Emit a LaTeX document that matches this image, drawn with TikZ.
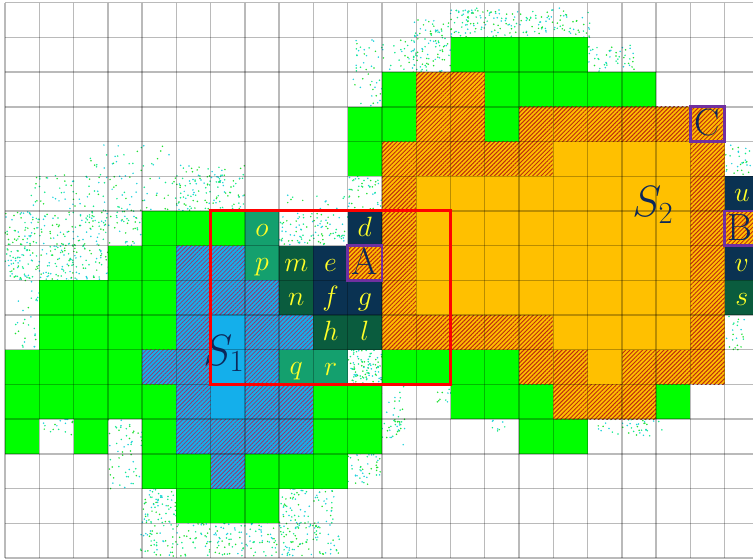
\RequirePackage{fix-cm}
\documentclass[tikz,border=0pt]{standalone}
\usetikzlibrary{patterns.meta}
\definecolor{gr}{RGB}{0,255,0}
\definecolor{orsolid}{RGB}{255,192,0}
\definecolor{orhatch}{RGB}{190,45,15}
\definecolor{blsolid}{RGB}{20,175,235}
\definecolor{blhatch}{RGB}{150,55,110}
\definecolor{tealc}{RGB}{20,160,110}
\definecolor{dkgreen}{RGB}{10,92,62}
\definecolor{navyc}{RGB}{10,50,82}
\definecolor{purp}{RGB}{112,48,160}
\definecolor{lettery}{RGB}{255,255,40}
\definecolor{labnavy}{RGB}{12,40,90}
\definecolor{dotg}{RGB}{30,225,50}
\definecolor{dotc}{RGB}{30,210,220}
\definecolor{dott}{RGB}{20,235,140}
\newcommand\dotcloud[5]{%
  \foreach \k in {1,...,#5}{%
    \pgfmathsetmacro\dx{#1+(#3-#1)*rnd}%
    \pgfmathsetmacro\dy{#2+(#4-#2)*rnd}%
    \pgfmathtruncatemacro\dc{3*rnd}%
    \ifcase\dc\def\dcol{dotg}\or\def\dcol{dotc}\or\def\dcol{dott}\else\def\dcol{dotg}\fi
    \fill[\dcol] (\dx,\dy) circle (0.85bp);
  }}
\begin{document}
\begin{tikzpicture}[x=34.27bp,y=-34.7bp,
  gcell/.style={fill=gr},
  osolid/.style={fill=orsolid},
  ohat/.style={fill=orsolid,postaction={pattern={Lines[angle=45,distance=3bp,line width=1bp]},pattern color=orhatch}},
  bsolid/.style={fill=blsolid},
  bhat/.style={fill=blsolid,postaction={pattern={Lines[angle=45,distance=3bp,line width=0.8bp]},pattern color=blhatch}},
  gridline/.style={draw=black,draw opacity=0.27,line width=1.4bp},
  sm/.style={text=lettery,font=\fontsize{28}{34}\selectfont,inner sep=0pt,anchor=base},
  capl/.style={text=labnavy,font=\fontsize{38}{46}\selectfont,inner sep=0pt,anchor=base},
  setlab/.style={text=labnavy,inner sep=0pt,anchor=base west},
  redbox/.style={draw=red,line width=3bp},
  pbox/.style={draw=purp,line width=2.7bp},
]
\useasboundingbox (-0.1459,-0.0778) rectangle (21.8267,16.0605);
\fill[white] (-0.1459,-0.0778) rectangle (21.8267,16.0605);
\clip (-0.1459,-0.0778) rectangle (21.8267,16.0605);

% scattered points (pixel coordinates)
\begin{scope}[x=1bp,y=-1bp,shift={(-5bp,2.7bp)}]
\pgfmathsetseed{4242}
\dotcloud{90}{145}{170}{178}{30}
\dotcloud{30}{175}{240}{212}{150}
\dotcloud{5}{210}{145}{246}{190}
\dotcloud{5}{245}{110}{282}{190}
\dotcloud{15}{290}{40}{348}{28}
\dotcloud{40}{419}{73}{435}{18}
\dotcloud{108}{419}{142}{492}{55}
\dotcloud{142}{488}{178}{525}{70}
\dotcloud{140}{522}{340}{556}{260}
\dotcloud{278}{488}{335}{530}{80}
\dotcloud{345}{453}{382}{485}{45}
\dotcloud{382}{418}{405}{445}{22}
\dotcloud{279}{211}{348}{245}{95}
\dotcloud{348}{350}{382}{384}{100}
\dotcloud{348}{176}{383}{211}{45}
\dotcloud{175}{165}{245}{211}{80}
\dotcloud{280}{195}{345}{211}{15}
\dotcloud{352}{40}{415}{108}{100}
\dotcloud{412}{20}{452}{72}{100}
\dotcloud{450}{8}{590}{38}{180}
\dotcloud{588}{45}{635}{73}{50}
\dotcloud{725}{143}{752}{175}{30}
\dotcloud{725}{315}{745}{350}{22}
\dotcloud{373}{384}{404}{440}{30}
\dotcloud{436}{386}{452}{402}{12}
\dotcloud{490}{419}{505}{432}{8}
\dotcloud{598}{419}{665}{436}{40}
\end{scope}

% green cells
\foreach \c/\r in {13/1,14/1,15/1,16/1,
  11/2,14/2,15/2,16/2,17/2,18/2,
  10/3,11/3,14/3, 10/4,
  4/6,5/6,6/6, 3/7,4/7,
  1/8,2/8,3/8,4/8, 1/9,2/9,3/9,4/9,
  0/10,1/10,2/10,3/10,11/10,12/10,13/10,14/10,
  0/11,1/11,2/11,3/11,4/11,9/11,10/11,13/11,14/11,15/11,19/11,
  0/12,2/12,4/12,9/12,10/12,15/12,16/12,
  4/13,5/13,7/13,8/13,9/13, 5/14,6/14,7/14}
  \fill[gcell] (\c,\r) rectangle ++(1,1);

% S1 cells
\foreach \c/\r in {5/7,6/7, 5/8,6/8,7/8, 5/9,7/9,8/9, 4/10,5/10,7/10,
  5/11,7/11,8/11, 5/12,6/12,7/12,8/12, 6/13}
  \fill[bhat] (\c,\r) rectangle ++(1,1);
\foreach \c/\r in {6/9,6/10,6/11}
  \fill[bsolid] (\c,\r) rectangle ++(1,1);

% S2 cells
\foreach \c/\r in {12/2,13/2,
  12/3,13/3,15/3,16/3,17/3,18/3,19/3,20/3,
  11/4,12/4,13/4,14/4,15/4,20/4,
  11/5,20/5, 11/6,20/6,21/6, 10/7,11/7,20/7, 11/8,20/8,
  11/9,12/9,13/9,14/9,15/9,20/9,
  15/10,16/10,18/10,19/10,20/10, 16/11,17/11,18/11}
  \fill[ohat] (\c,\r) rectangle ++(1,1);
\foreach \c/\r in {16/4,17/4,18/4,19/4,
  12/5,13/5,14/5,15/5,16/5,17/5,18/5,19/5,
  12/6,13/6,14/6,15/6,16/6,17/6,18/6,19/6,
  12/7,13/7,14/7,15/7,16/7,17/7,18/7,19/7,
  12/8,13/8,14/8,15/8,16/8,17/8,18/8,19/8,
  16/9,17/9,18/9,19/9, 17/10}
  \fill[osolid] (\c,\r) rectangle ++(1,1);

% labelled cells
\foreach \c/\r in {7/6,7/7,8/10,9/10}
  \fill[tealc] (\c,\r) rectangle ++(1,1);
\foreach \c/\r in {8/7,8/8,9/9,10/9,21/8}
  \fill[dkgreen] (\c,\r) rectangle ++(1,1);
\foreach \c/\r in {10/6,9/7,9/8,10/8,21/5,21/7}
  \fill[navyc] (\c,\r) rectangle ++(1,1);

% grid
\foreach \i in {0,...,22} \draw[gridline] (\i,0) -- (\i,16);
\foreach \j in {0,...,16} \draw[gridline] (0,\j) -- (22,\j);

% letters
\node[sm] (o) at (7.5,6.74) {$o$};
\node[sm] (d) at (10.5,6.74) {$d$};
\node[sm] (p) at (7.5,7.72) {$p$};
\node[sm] (m) at (8.5,7.74) {$m$};
\node[sm] (e) at (9.5,7.74) {$e$};
\node[sm] (n) at (8.5,8.74) {$n$};
\node[sm] (f) at (9.5,8.72) {$f$};
\node[sm] (g) at (10.5,8.72) {$g$};
\node[sm] (h) at (9.5,9.74) {$h$};
\node[sm] (l) at (10.5,9.74) {$l$};
\node[sm] (q) at (8.5,10.72) {$q$};
\node[sm] (r) at (9.5,10.74) {$r$};
\node[sm] (u) at (21.5,5.74) {$u$};
\node[sm] (v) at (21.5,7.74) {$v$};
\node[sm] (s) at (21.5,8.74) {$s$};

\node[capl] (A) at (10.5,7.83) {A};
\node[capl] (B) at (21.45,6.84) {B};
\node[capl] (C) at (20.5,3.84) {C};

\node[setlab,font=\fontsize{44}{52}\selectfont] (S1) at (5.78,10.45) {$S_1$};
\node[setlab,font=\fontsize{44}{52}\selectfont] (S2) at (18.3,6.17) {$S_2$};

% frames
\draw[redbox] (6,6) rectangle (13,11);
\draw[pbox] (10,7) rectangle (11,8);
\draw[pbox] (21,6) rectangle (22,7);
\draw[pbox] (20,3) rectangle (21,4);
\end{tikzpicture}
\end{document}
